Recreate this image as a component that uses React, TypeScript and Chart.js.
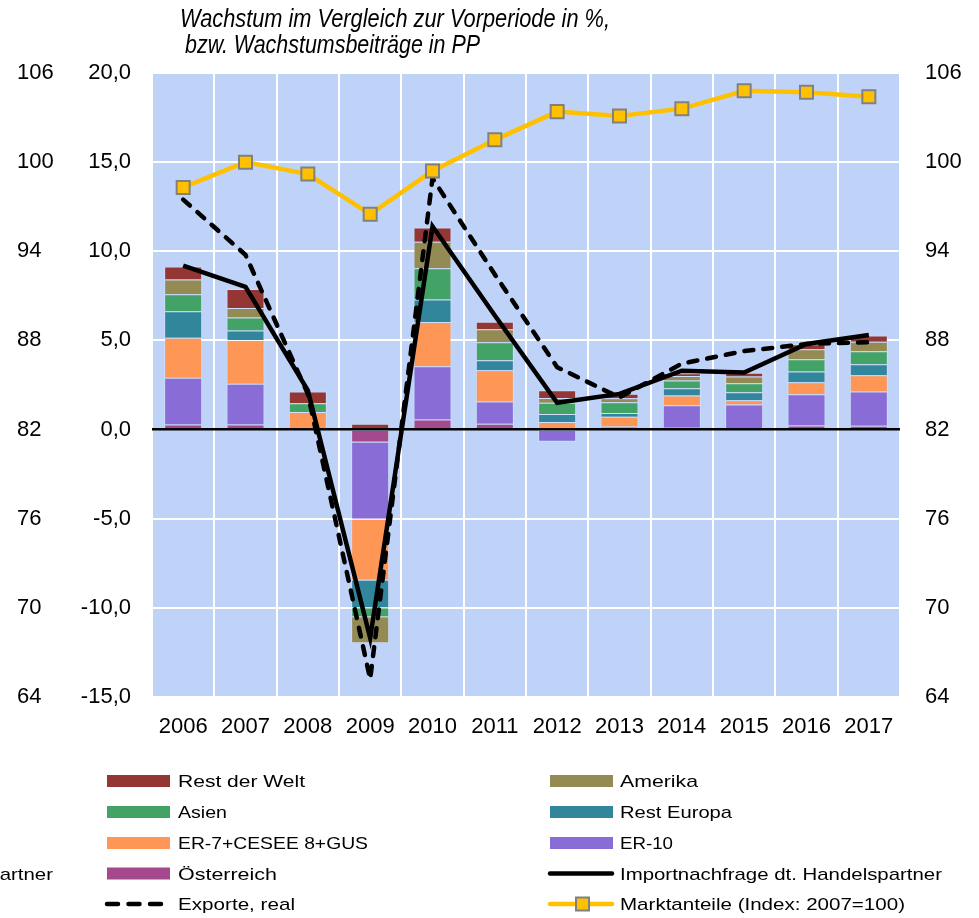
import React, { useEffect, useRef } from 'react';
import { Chart, registerables } from 'chart.js';

Chart.register(...registerables);

// ---------- data ----------
const years = ['2006', '2007', '2008', '2009', '2010', '2011', '2012', '2013', '2014', '2015', '2016', '2017'];

const oesterreich = [0.28, 0.28, 0, -0.72, 0.56, 0.32, 0, 0, 0.1, 0, 0.23, 0.21];
const er10 = [2.63, 2.29, 0, -4.32, 2.99, 1.26, -0.68, 0.17, 1.26, 1.41, 1.75, 1.93];
const er7Cesee = [2.24, 2.45, 0.99, -3.42, 2.48, 1.75, 0.42, 0.55, 0.55, 0.23, 0.68, 0.9];
const restEuropa = [1.48, 0.54, 0, -1.56, 1.26, 0.56, 0.45, 0.21, 0.41, 0.45, 0.6, 0.62];
const asien = [0.96, 0.73, 0.49, -0.51, 1.76, 1.01, 0.64, 0.6, 0.43, 0.51, 0.69, 0.73];
const amerika = [0.83, 0.53, 0, -1.46, 1.48, 0.72, 0.26, 0.23, 0.26, 0.38, 0.55, 0.53];
const restDerWelt = [0.73, 1.07, 0.66, 0.32, 0.81, 0.43, 0.43, 0.25, 0.15, 0.21, 0.28, 0.35];

const importnachfrage = [9.2, 8.0, 2.2, -11.7, 11.4, 6.4, 1.5, 2.0, 3.3, 3.2, 4.8, 5.3];
const exporteReal = [12.9, 9.8, 2.0, -14.0, 14.1, 8.7, 3.5, 1.8, 3.7, 4.4, 4.8, 4.9];
const marktanteile = [98.3, 100.0, 99.2, 96.5, 99.4, 101.5, 103.4, 103.1, 103.6, 104.8, 104.7, 104.4];

const leftRange = [-15, 20, 5];
const indexRange = [64, 106, 6];

const titleLines = ['Wachstum im Vergleich zur Vorperiode in %,', ' bzw. Wachstumsbeiträge in PP'];

// ---------- styles ----------
const FONT = '"Liberation Sans", Arial, Helvetica, sans-serif';
const COLORS = {
  oesterreich: '#a3498c',
  er10: '#8a6cd6',
  er7: '#fe9656',
  restEuropa: '#31869b',
  asien: '#43a366',
  amerika: '#948a54',
  rdw: '#943634',
  plotBg: '#bfd3f8',
  markt: '#ffc000',
  marktBorder: '#808080',
};

const barSeries = [
  { label: 'Österreich', data: oesterreich, color: COLORS.oesterreich },
  { label: 'ER-10', data: er10, color: COLORS.er10 },
  { label: 'ER-7+CESEE 8+GUS', data: er7Cesee, color: COLORS.er7 },
  { label: 'Rest Europa', data: restEuropa, color: COLORS.restEuropa },
  { label: 'Asien', data: asien, color: COLORS.asien },
  { label: 'Amerika', data: amerika, color: COLORS.amerika },
  { label: 'Rest der Welt', data: restDerWelt, color: COLORS.rdw },
];

function fitText(ctx: CanvasRenderingContext2D, text: string, x: number, base: number, font: string, targetW: number, alignRight = false) {
  ctx.save();
  ctx.font = font;
  const w = ctx.measureText(text).width;
  const s = targetW / w;
  ctx.translate(x, base);
  ctx.scale(s, 1);
  ctx.textAlign = 'left';
  ctx.textBaseline = 'alphabetic';
  ctx.fillStyle = '#000';
  ctx.fillText(text, alignRight ? -w : 0, 0);
  ctx.restore();
}

const bgPlugin = {
  id: 'plotBg',
  beforeDraw(chart: any) {
    const { ctx, chartArea } = chart;
    ctx.save();
    ctx.fillStyle = COLORS.plotBg;
    ctx.fillRect(chartArea.left, chartArea.top, chartArea.right - chartArea.left, chartArea.bottom - chartArea.top);
    ctx.restore();
  },
};

const decorPlugin = {
  id: 'decor',
  afterDraw(chart: any) {
    const ctx: CanvasRenderingContext2D = chart.ctx;
    // title
    fitText(ctx, titleLines[0], 180, 27, `italic 25px ${FONT}`, 430);
    fitText(ctx, titleLines[1].trim(), 185, 53, `italic 25px ${FONT}`, 295);

    const lf = `17px ${FONT}`;
    const rows = [781, 812, 843, 873.5, 904];
    const col1 = [
      { label: 'Rest der Welt', color: COLORS.rdw, w: 127 },
      { label: 'Asien', color: COLORS.asien, w: 49 },
      { label: 'ER-7+CESEE 8+GUS', color: COLORS.er7, w: 190 },
      { label: 'Österreich', color: COLORS.oesterreich, w: 99 },
    ];
    const col2 = [
      { label: 'Amerika', color: COLORS.amerika, w: 78 },
      { label: 'Rest Europa', color: COLORS.restEuropa, w: 112 },
      { label: 'ER-10', color: COLORS.er10, w: 53 },
    ];
    col1.forEach((it, i) => {
      ctx.fillStyle = it.color;
      ctx.fillRect(107, rows[i] - 6, 63, 12);
      fitText(ctx, it.label, 178, rows[i] + 6, lf, it.w);
    });
    col2.forEach((it, i) => {
      ctx.fillStyle = it.color;
      ctx.fillRect(550, rows[i] - 6, 63, 12);
      fitText(ctx, it.label, 620, rows[i] + 6, lf, it.w);
    });
    // Exporte dashed
    ctx.save();
    ctx.strokeStyle = '#000';
    ctx.lineWidth = 4.5;
    ctx.lineCap = 'round';
    ctx.setLineDash([11, 10.5]);
    ctx.beginPath();
    ctx.moveTo(107, rows[4]);
    ctx.lineTo(161, rows[4]);
    ctx.stroke();
    ctx.restore();
    fitText(ctx, 'Exporte, real', 178, rows[4] + 6, lf, 117);
    // Importnachfrage solid
    ctx.save();
    ctx.strokeStyle = '#000';
    ctx.lineWidth = 4.5;
    ctx.lineCap = 'round';
    ctx.beginPath();
    ctx.moveTo(550, rows[3]);
    ctx.lineTo(612, rows[3]);
    ctx.stroke();
    ctx.restore();
    fitText(ctx, 'Importnachfrage dt. Handelspartner', 620, rows[3] + 6, lf, 322);
    // clipped duplicate on the far left
    fitText(ctx, 'Importnachfrage dt. Handelspartner', 53, rows[3] + 6, lf, 322, true);
    // Marktanteile
    ctx.save();
    ctx.strokeStyle = COLORS.markt;
    ctx.lineWidth = 4.5;
    ctx.lineCap = 'round';
    ctx.beginPath();
    ctx.moveTo(550, rows[4]);
    ctx.lineTo(612, rows[4]);
    ctx.stroke();
    ctx.fillStyle = COLORS.markt;
    ctx.strokeStyle = COLORS.marktBorder;
    ctx.lineWidth = 2;
    ctx.fillRect(576, rows[4] - 6.5, 13, 13);
    ctx.strokeRect(576, rows[4] - 6.5, 13, 13);
    ctx.restore();
    fitText(ctx, 'Marktanteile (Index: 2007=100)', 620, rows[4] + 6, lf, 285);
  },
};

export default function App() {
  const ref = useRef<HTMLCanvasElement>(null);

  useEffect(() => {
    document.body.style.margin = '0';
    const canvas = ref.current;
    if (!canvas) return;

    const datasets: any[] = [
      {
        type: 'line',
        label: 'Marktanteile (Index: 2007=100)',
        data: marktanteile,
        yAxisID: 'yR',
        borderColor: COLORS.markt,
        borderWidth: 4.5,
        backgroundColor: COLORS.markt,
        pointStyle: 'rect',
        pointRadius: 9.2,
        pointBorderColor: COLORS.marktBorder,
        pointBorderWidth: 2,
        pointBackgroundColor: COLORS.markt,
        tension: 0,
        order: 0,
      },
      {
        type: 'line',
        label: 'Importnachfrage dt. Handelspartner',
        data: importnachfrage,
        yAxisID: 'yL',
        borderColor: '#000',
        borderWidth: 4.5,
        pointRadius: 0,
        tension: 0,
        order: 1,
      },
      {
        type: 'line',
        label: 'Exporte, real',
        data: exporteReal,
        yAxisID: 'yL',
        borderColor: '#000',
        borderWidth: 4.5,
        borderDash: [9, 10],
        borderCapStyle: 'round',
        pointRadius: 0,
        tension: 0,
        order: 2,
      },
      ...barSeries.map((s) => ({
        type: 'bar',
        label: s.label,
        data: s.data,
        yAxisID: 'y',
        backgroundColor: s.color,
        borderColor: 'rgba(255,255,255,0.25)',
        borderWidth: 1,
        barPercentage: 0.61,
        categoryPercentage: 1,
        order: 10,
      })),
    ];

    const chart = new Chart(canvas, {
      type: 'bar',
      data: { labels: years, datasets },
      plugins: [bgPlugin, decorPlugin],
      options: {
        responsive: false,
        animation: false,
        devicePixelRatio: 1,
        layout: { padding: { left: 17, top: 73, right: 0, bottom: 0 } },
        plugins: { legend: { display: false }, tooltip: { enabled: false } },
        scales: {
          x: {
            stacked: true,
            offset: true,
            grid: { display: true, offset: true, color: '#ffffff', lineWidth: 2, drawTicks: false },
            border: { display: false },
            ticks: { color: '#000', font: { family: FONT, size: 22 }, padding: 17, maxRotation: 0, autoSkip: false },
            afterFit: (s: any) => { s.height = 221; },
          },
          y: {
            position: 'left',
            weight: 1,
            stacked: true,
            min: leftRange[0],
            max: leftRange[1],
            grid: {
              color: (c: any) => (c.tick && c.tick.value === 0 ? '#000000' : '#ffffff'),
              lineWidth: (c: any) => (c.tick && c.tick.value === 0 ? 2.5 : 2),
              drawTicks: false,
            },
            border: { display: false },
            ticks: {
              stepSize: leftRange[2],
              color: '#000',
              padding: 21,
              font: { family: FONT, size: 22 },
              callback: (v: any) => Number(v).toFixed(1).replace('.', ','),
            },
            afterFit: (s: any) => { s.width = 80; },
          },
          yOuter: {
            position: 'left',
            weight: 2,
            min: indexRange[0],
            max: indexRange[1],
            grid: { display: false, drawTicks: false },
            border: { display: false },
            ticks: {
              stepSize: indexRange[2],
              color: '#000',
              crossAlign: 'far',
              padding: 0,
              font: { family: FONT, size: 22 },
              callback: (v: any) => String(v),
            },
            afterFit: (s: any) => { s.width = 55; },
          },
          yL: {
            display: false,
            min: leftRange[0],
            max: leftRange[1],
          },
          yR: {
            position: 'right',
            min: indexRange[0],
            max: indexRange[1],
            grid: { display: false, drawTicks: false },
            border: { display: false },
            ticks: {
              stepSize: indexRange[2],
              color: '#000',
              padding: 25,
              font: { family: FONT, size: 22 },
              callback: (v: any) => String(v),
            },
            afterFit: (s: any) => { s.width = 79; },
          },
        },
      } as any,
    });

    return () => chart.destroy();
  }, []);

  return (
    <div style={{ width: 979, height: 918, position: 'relative', overflow: 'hidden', background: '#fff' }}>
      <canvas ref={ref} width={979} height={918} style={{ display: 'block', width: 979, height: 918 }} />
    </div>
  );
}
